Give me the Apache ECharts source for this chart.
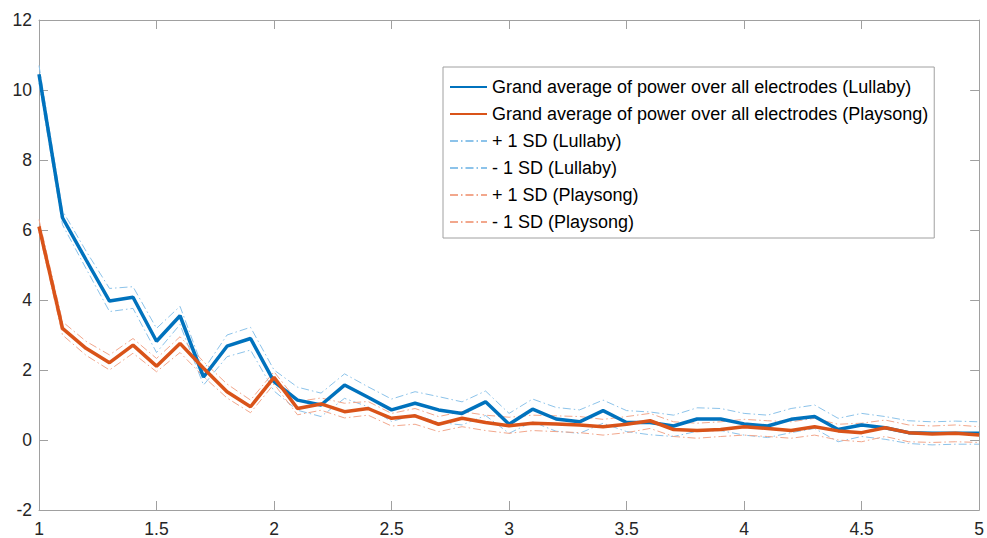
<!DOCTYPE html>
<html>
<head>
<meta charset="utf-8">
<script src="https://cdn.jsdelivr.net/npm/echarts@6/dist/echarts.min.js"></script>
<style>
  html, body { margin: 0; padding: 0; background: #fff; }
  #chart { width: 987px; height: 538px; }
</style>
</head>
<body>
<div id="chart"></div>
<script>
// Grand average power, Lullaby vs Playsong
var xValues = [1.0, 1.1, 1.2, 1.3, 1.4, 1.5, 1.6, 1.7, 1.8, 1.9, 2.0,
  2.1, 2.2, 2.3, 2.4, 2.5, 2.6, 2.7, 2.8, 2.9, 3.0,
  3.1, 3.2, 3.3, 3.4, 3.5, 3.6, 3.7, 3.8, 3.9, 4.0,
  4.1, 4.2, 4.3, 4.4, 4.5, 4.6, 4.7, 4.8, 4.9, 5.0];

var lullabyMean = [10.45, 6.35, 5.15, 3.97, 4.08, 2.82, 3.55, 1.8, 2.68, 2.9, 1.67,
  1.14, 1.0, 1.57, 1.22, 0.86, 1.05, 0.86, 0.76, 1.09, 0.45,
  0.88, 0.6, 0.52, 0.84, 0.5, 0.5, 0.4, 0.6, 0.6, 0.46,
  0.4, 0.59, 0.67, 0.3, 0.43, 0.35, 0.21, 0.19, 0.19, 0.19];

var playsongMean = [6.1, 3.19, 2.62, 2.21, 2.71, 2.11, 2.76, 2.05, 1.38, 0.95, 1.79,
  0.9, 1.03, 0.81, 0.9, 0.62, 0.69, 0.45, 0.62, 0.5, 0.41,
  0.48, 0.46, 0.43, 0.38, 0.45, 0.55, 0.3, 0.27, 0.3, 0.38,
  0.33, 0.27, 0.38, 0.26, 0.21, 0.35, 0.21, 0.17, 0.19, 0.14];

var lullabyUpper = [10.7, 6.55, 5.4, 4.33, 4.38, 3.19, 3.82, 2.0, 3.0, 3.22, 2.0,
  1.51, 1.34, 1.89, 1.52, 1.17, 1.38, 1.24, 1.09, 1.4, 0.76,
  1.17, 0.93, 0.86, 1.14, 0.84, 0.8, 0.71, 0.92, 0.9, 0.76,
  0.71, 0.9, 1.0, 0.62, 0.76, 0.67, 0.55, 0.52, 0.54, 0.52];

var lullabyLower = [10.2, 6.15, 4.9, 3.67, 3.76, 2.5, 3.3, 1.57, 2.38, 2.57, 1.4,
  0.85, 0.67, 1.19, 0.95, 0.53, 0.72, 0.5, 0.43, 0.7, 0.19,
  0.52, 0.25, 0.19, 0.48, 0.24, 0.15, 0.1, 0.25, 0.27, 0.14,
  0.07, 0.21, 0.33, -0.05, 0.1, 0.02, -0.1, -0.14, -0.12, -0.12];

var playsongUpper = [6.3, 3.38, 2.82, 2.43, 2.9, 2.33, 2.95, 2.24, 1.6, 1.14, 1.95,
  1.1, 1.2, 1.05, 1.1, 0.76, 0.9, 0.67, 0.81, 0.71, 0.65,
  0.71, 0.69, 0.67, 0.59, 0.67, 0.76, 0.52, 0.48, 0.52, 0.59,
  0.55, 0.52, 0.62, 0.45, 0.48, 0.57, 0.43, 0.4, 0.43, 0.38];

var playsongLower = [5.95, 3.0, 2.42, 2.0, 2.48, 1.95, 2.5, 1.81, 1.2, 0.78, 1.6,
  0.72, 0.85, 0.63, 0.71, 0.4, 0.45, 0.24, 0.38, 0.27, 0.19,
  0.27, 0.24, 0.21, 0.14, 0.21, 0.33, 0.1, 0.05, 0.1, 0.14,
  0.1, 0.05, 0.14, 0.0, -0.05, 0.1, -0.05, -0.07, -0.05, -0.07];

var seriesNames = [
  'Grand average of power over all electrodes (Lullaby)',
  'Grand average of power over all electrodes (Playsong)',
  '+ 1 SD (Lullaby)',
  '- 1 SD (Lullaby)',
  '+ 1 SD (Playsong)',
  '- 1 SD (Playsong)'
];

var blue = '#0072BD';
var orange = '#D95319';
var lightBlue = '#8cc3ea';
var lightOrange = '#f2a78c';
var axisGray = '#a0a0a0';
var ink = '#262626';
var dashDot = [8, 3, 1.5, 3];
var font = 'Liberation Sans, Arial, sans-serif';

function pairs(ys) {
  return ys.map(function(y, i) { return [xValues[i], y]; });
}

function lineSeries(name, ys, color, width, type, z) {
  return {
    name: name,
    type: 'line',
    data: pairs(ys),
    symbol: 'none',
    z: z,
    lineStyle: { color: color, width: width, type: type },
    itemStyle: { color: color },
    emphasis: { disabled: true }
  };
}

var frameAxis = {
  axisLine: { show: true, onZero: false, lineStyle: { color: axisGray, width: 1 } },
  axisTick: { show: true, inside: true, length: 9, lineStyle: { color: axisGray } },
  axisLabel: { show: false },
  splitLine: { show: false }
};

var chart = echarts.init(document.getElementById('chart'), null, { renderer: 'svg' });
chart.setOption({
  animation: false,
  textStyle: { fontFamily: font },
  grid: { left: 39, right: 7, top: 20, bottom: 27.5, containLabel: false },
  legend: {
    orient: 'vertical',
    left: 443,
    top: 67,
    padding: [11, 6, 7, 6],
    itemWidth: 37,
    itemHeight: 16,
    itemGap: 9,
    backgroundColor: '#fff',
    borderColor: axisGray,
    borderWidth: 1,
    itemStyle: { opacity: 0 },
    data: seriesNames,
    textStyle: { color: '#000', fontSize: 18, lineHeight: 18, fontFamily: font }
  },
  xAxis: [
    {
      type: 'value',
      min: 1,
      max: 5,
      interval: 0.5,
      position: 'bottom',
      axisLine: { show: true, onZero: false, lineStyle: { color: axisGray, width: 1 } },
      axisTick: { show: true, inside: true, length: 9, lineStyle: { color: axisGray } },
      axisLabel: { color: ink, fontSize: 17.5, margin: 10 },
      splitLine: { show: false }
    },
    Object.assign({ type: 'value', min: 1, max: 5, interval: 0.5, position: 'top' }, frameAxis)
  ],
  yAxis: [
    {
      type: 'value',
      min: -2,
      max: 12,
      interval: 2,
      position: 'left',
      axisLine: { show: true, onZero: false, lineStyle: { color: axisGray, width: 1 } },
      axisTick: { show: true, inside: true, length: 9, lineStyle: { color: axisGray } },
      axisLabel: { color: ink, fontSize: 17.5, margin: 7 },
      splitLine: { show: false }
    },
    Object.assign({ type: 'value', min: -2, max: 12, interval: 2, position: 'right' }, frameAxis)
  ],
  series: [
    lineSeries(seriesNames[0], lullabyMean, blue, 3.5, 'solid', 3),
    lineSeries(seriesNames[1], playsongMean, orange, 3.5, 'solid', 3),
    lineSeries(seriesNames[2], lullabyUpper, lightBlue, 1, dashDot, 2),
    lineSeries(seriesNames[3], lullabyLower, lightBlue, 1, dashDot, 2),
    lineSeries(seriesNames[4], playsongUpper, lightOrange, 1, dashDot, 2),
    lineSeries(seriesNames[5], playsongLower, lightOrange, 1, dashDot, 2)
  ]
});
window.addEventListener('resize', function() { chart.resize(); });
</script>
</body>
</html>
